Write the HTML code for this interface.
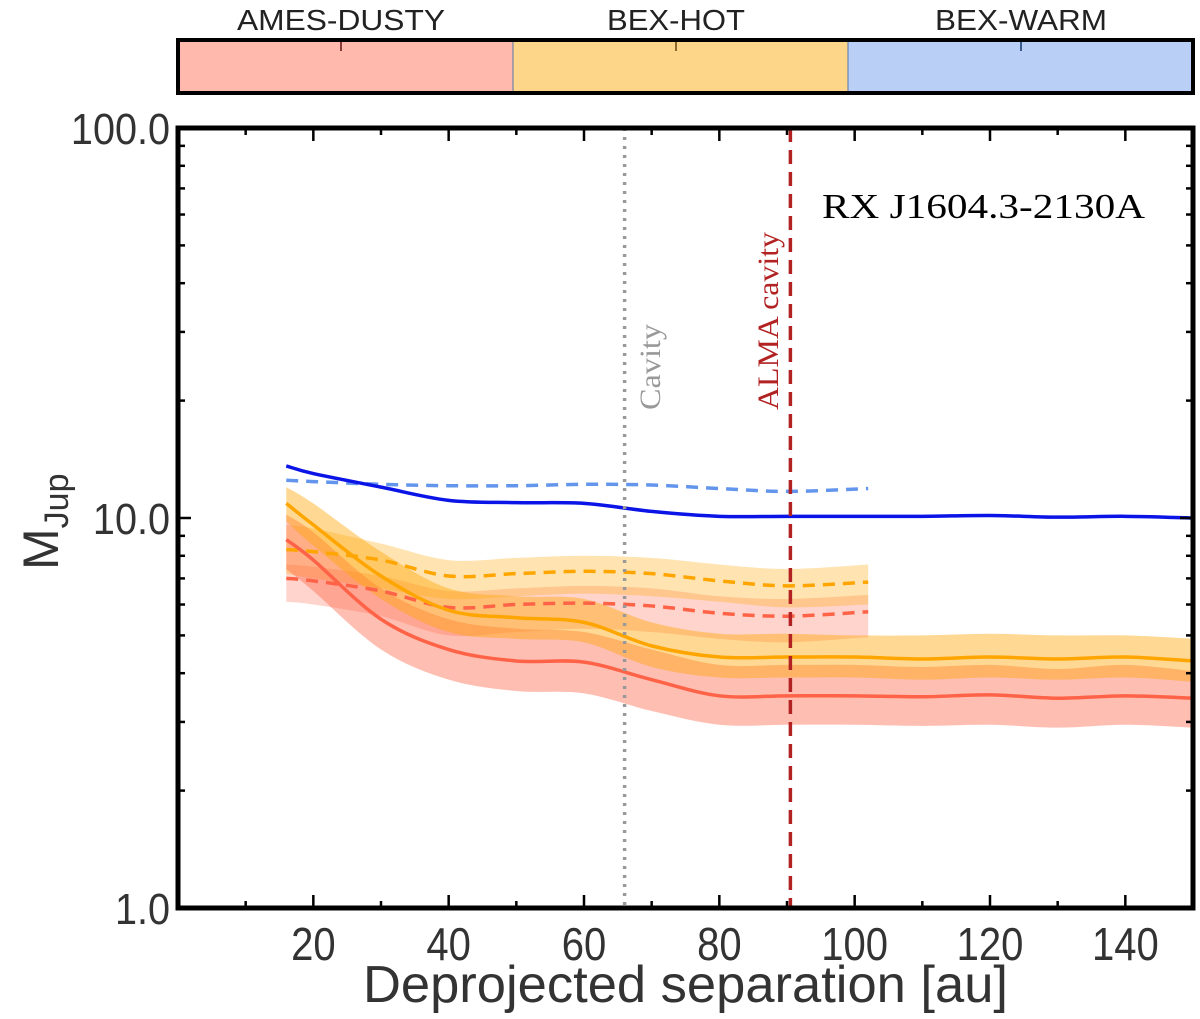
<!DOCTYPE html>
<html><head><meta charset="utf-8"><style>
html,body{margin:0;padding:0;background:#fff;}
svg{display:block;font-family:"Liberation Sans",sans-serif;}
</style></head><body>
<svg id="chart" width="1200" height="1019" viewBox="0 0 1200 1019">
<g>
<rect x="178" y="40" width="335" height="53" fill="#ffb9ad"/>
<rect x="513" y="40" width="335" height="53" fill="#fed68a"/>
<rect x="848" y="40" width="345" height="53" fill="#b9cff6"/>
<line x1="513" y1="40" x2="513" y2="93" stroke="#5577aa" stroke-width="1"/>
<line x1="848" y1="40" x2="848" y2="93" stroke="#5577aa" stroke-width="1"/>
<line x1="341" y1="42" x2="341" y2="51" stroke="#8b3a3a" stroke-width="2"/>
<line x1="676" y1="42" x2="676" y2="51" stroke="#8b6a2a" stroke-width="2"/>
<line x1="1021" y1="42" x2="1021" y2="51" stroke="#3a5a8b" stroke-width="2"/>
<rect x="178" y="40" width="1015" height="53" fill="none" stroke="#000" stroke-width="4"/>
<text x="341" y="30" font-size="29" text-anchor="middle" fill="#222" textLength="208" lengthAdjust="spacingAndGlyphs">AMES-DUSTY</text>
<text x="676" y="30" font-size="29" text-anchor="middle" fill="#222" textLength="138" lengthAdjust="spacingAndGlyphs">BEX-HOT</text>
<text x="1021" y="30" font-size="29" text-anchor="middle" fill="#222" textLength="172" lengthAdjust="spacingAndGlyphs">BEX-WARM</text>
</g>
<g id="marks"></g>
<g id="axes"></g>
</svg>
<script>
const xSolid=[16,20,30,40,50,60,70,80,90,100,110,120,130,140,150];
const xDashed=[16,20,30,40,50,60,70,80,90,102];
const orangeSolid=[10.9,9.6,7.1,5.8,5.55,5.4,4.7,4.4,4.4,4.4,4.35,4.4,4.35,4.4,4.3];
const orangeSolidHi=[12.0,10.9,8.2,6.6,6.3,6.2,5.4,5.05,5.05,5.0,5.0,5.05,5.0,5.0,4.9];
const orangeSolidLo=[9.8,8.5,6.2,5.1,4.9,4.8,4.15,3.9,3.9,3.9,3.85,3.9,3.85,3.9,3.8];
const redSolid=[8.8,7.8,5.5,4.6,4.3,4.27,3.85,3.5,3.5,3.5,3.48,3.52,3.45,3.5,3.45];
const redSolidHi=[10.2,9.2,6.6,5.5,5.2,5.1,4.6,4.2,4.2,4.2,4.15,4.2,4.1,4.2,4.05];
const redSolidLo=[7.4,6.5,4.6,3.85,3.6,3.55,3.2,2.95,2.95,2.95,2.93,2.95,2.9,2.95,2.9];
const blueSolid=[13.6,13.0,12.0,11.1,10.95,10.9,10.4,10.1,10.1,10.1,10.1,10.15,10.05,10.1,10.0];
const blueDashed=[12.5,12.4,12.2,12.1,12.1,12.2,12.15,11.9,11.7,11.9];
const orangeDashed=[8.3,8.2,7.8,7.1,7.2,7.3,7.2,6.9,6.7,6.85];
const orangeDashedHi=[9.6,9.4,8.6,7.8,7.9,8.0,7.9,7.6,7.4,7.6];
const orangeDashedLo=[7.2,7.0,6.6,6.2,6.3,6.4,6.3,6.1,5.9,6.0];
const redDashed=[7.0,6.9,6.5,5.9,6.0,6.05,5.95,5.7,5.6,5.75];
const redDashedHi=[7.6,7.5,7.1,6.5,6.6,6.7,6.6,6.3,6.2,6.35];
const redDashedLo=[6.1,6.0,5.6,5.0,5.1,5.2,5.1,4.9,4.8,4.95];
const xTicks=[20,40,60,80,100,120,140];
const xMinor=[10,30,50,70,90,110,130];
const yTicks=[1,10,100];
const yTickLabels=["1.0","10.0","100.0"];
const cavityX=66, almaX=90.5;

const X0=178,X1=1193,Y0=908,Y1=128;
const sx=v=>X0+(v/150)*(X1-X0);
const sy=v=>Y0-(Math.log10(v)/2)*(Y0-Y1);
const NS='http://www.w3.org/2000/svg';
const marks=document.getElementById('marks'),axes=document.getElementById('axes');
function mk(tag,attrs,parent){const e=document.createElementNS(NS,tag);for(const k in attrs)e.setAttribute(k,attrs[k]);parent.appendChild(e);return e;}
function smooth(pts,move){let d=move?'M'+pts[0][0]+','+pts[0][1]:'L'+pts[0][0]+','+pts[0][1];
 for(let i=0;i<pts.length-1;i++){const p0=pts[Math.max(0,i-1)],p1=pts[i],p2=pts[i+1],p3=pts[Math.min(pts.length-1,i+2)];
 d+=' C'+(p1[0]+(p2[0]-p0[0])/6)+','+(p1[1]+(p2[1]-p0[1])/6)+' '+(p2[0]-(p3[0]-p1[0])/6)+','+(p2[1]-(p3[1]-p1[1])/6)+' '+p2[0]+','+p2[1];}
 return d;}
function band(xs,lo,hi,fill,name){const up=xs.map((x,i)=>[sx(x),sy(hi[i])]);const dn=xs.map((x,i)=>[sx(x),sy(lo[i])]).reverse();
 const p=mk('path',{d:smooth(up,true)+' '+smooth(dn,false)+' Z',fill:fill},marks);
 
 }
function line(xs,ys,stroke,dash,name){const p=mk('path',{d:smooth(xs.map((x,i)=>[sx(x),sy(ys[i])]),true),fill:'none',stroke:stroke,'stroke-width':3.5,'stroke-dasharray':dash||'none'},marks);
 
 }
band(xDashed,redDashedLo,redDashedHi,'rgba(255,99,71,0.28)','ames-dusty-dashed-band');
band(xDashed,orangeDashedLo,orangeDashedHi,'rgba(255,165,0,0.3)','bex-hot-dashed-band');
band(xSolid,redSolidLo,redSolidHi,'rgba(255,99,71,0.42)','ames-dusty-solid-band');
band(xSolid,orangeSolidLo,orangeSolidHi,'rgba(255,165,0,0.42)','bex-hot-solid-band');
line(xDashed,redDashed,'#ff6347','12,8','ames-dusty-dashed-line');
line(xDashed,orangeDashed,'#ffa500','12,8','bex-hot-dashed-line');
line(xDashed,blueDashed,'#6495ed','12,8','bex-warm-dashed-line');
line(xSolid,redSolid,'#ff6347',null,'ames-dusty-solid-line');
line(xSolid,orangeSolid,'#ffa500',null,'bex-hot-solid-line');
line(xSolid,blueSolid,'#0a14e6',null,'bex-warm-solid-line');
let e;
e=mk('line',{x1:sx(cavityX),x2:sx(cavityX),y1:Y1,y2:Y0,stroke:'#999','stroke-width':3.5,'stroke-dasharray':'3,6'},marks);


e=mk('line',{x1:sx(almaX),x2:sx(almaX),y1:Y1,y2:Y0,stroke:'#b22222','stroke-width':3.5,'stroke-dasharray':'14,8'},marks);


e=mk('text',{x:0,y:0,transform:'translate(660,410) rotate(-90)','font-family':'"Liberation Serif",serif','font-size':30,fill:'#999',textLength:86,lengthAdjust:'spacingAndGlyphs'},marks);e.textContent='Cavity';


e=mk('text',{x:0,y:0,transform:'translate(778,410) rotate(-90)','font-family':'"Liberation Serif",serif','font-size':30,fill:'#b22222',textLength:178,lengthAdjust:'spacingAndGlyphs'},marks);e.textContent='ALMA cavity';


e=mk('text',{x:822,y:218,'font-family':'"Liberation Serif",serif','font-size':35,fill:'#000',textLength:323,lengthAdjust:'spacingAndGlyphs'},marks);e.textContent='RX J1604.3-2130A';


// axes
xTicks.forEach(t=>{mk('line',{x1:sx(t),x2:sx(t),y1:Y0,y2:Y0-13,stroke:'#000','stroke-width':2.5},axes);mk('line',{x1:sx(t),x2:sx(t),y1:Y1,y2:Y1+13,stroke:'#000','stroke-width':2.5},axes);
 const l=mk('text',{x:sx(t),y:Y0+52,'font-size':46,'text-anchor':'middle',fill:'#333',transform:'translate('+(sx(t)*0.13)+',0) scale(0.87,1)'},axes);l.textContent=t;
 
 });
xMinor.forEach(t=>{mk('line',{x1:sx(t),x2:sx(t),y1:Y0,y2:Y0-7,stroke:'#000','stroke-width':2.5},axes);mk('line',{x1:sx(t),x2:sx(t),y1:Y1,y2:Y1+7,stroke:'#000','stroke-width':2.5},axes);});
yTicks.forEach((t,i)=>{mk('line',{x1:X0,x2:X0+13,y1:sy(t),y2:sy(t),stroke:'#000','stroke-width':2.5},axes);mk('line',{x1:X1,x2:X1-13,y1:sy(t),y2:sy(t),stroke:'#000','stroke-width':2.5},axes);
 const l=mk('text',{x:X0-8,y:sy(t)+16,'font-size':44,'text-anchor':'end',fill:'#333',transform:'translate('+((X0-8)*0.1)+',0) scale(0.9,1)'},axes);l.textContent=yTickLabels[i];
 
 
 if(i<yTicks.length-1)for(let m=2;m<=9;m++){const v=t*m;mk('line',{x1:X0,x2:X0+7,y1:sy(v),y2:sy(v),stroke:'#000','stroke-width':2.5},axes);mk('line',{x1:X1,x2:X1-7,y1:sy(v),y2:sy(v),stroke:'#000','stroke-width':2.5},axes);}});
e=mk('rect',{x:X0,y:Y1,width:X1-X0,height:Y0-Y1,fill:'none',stroke:'#000','stroke-width':5},axes);


e=mk('text',{x:(X0+X1)/2,y:1002,'font-size':52,'text-anchor':'middle',fill:'#333',textLength:645,lengthAdjust:'spacingAndGlyphs'},axes);e.textContent='Deprojected separation [au]';


e=mk('text',{x:0,y:0,transform:'translate(58,570) rotate(-90)','font-size':50,fill:'#333'},axes);
e.innerHTML='M<tspan font-size="34" dy="10">Jup</tspan>';


</script>
</body></html>
